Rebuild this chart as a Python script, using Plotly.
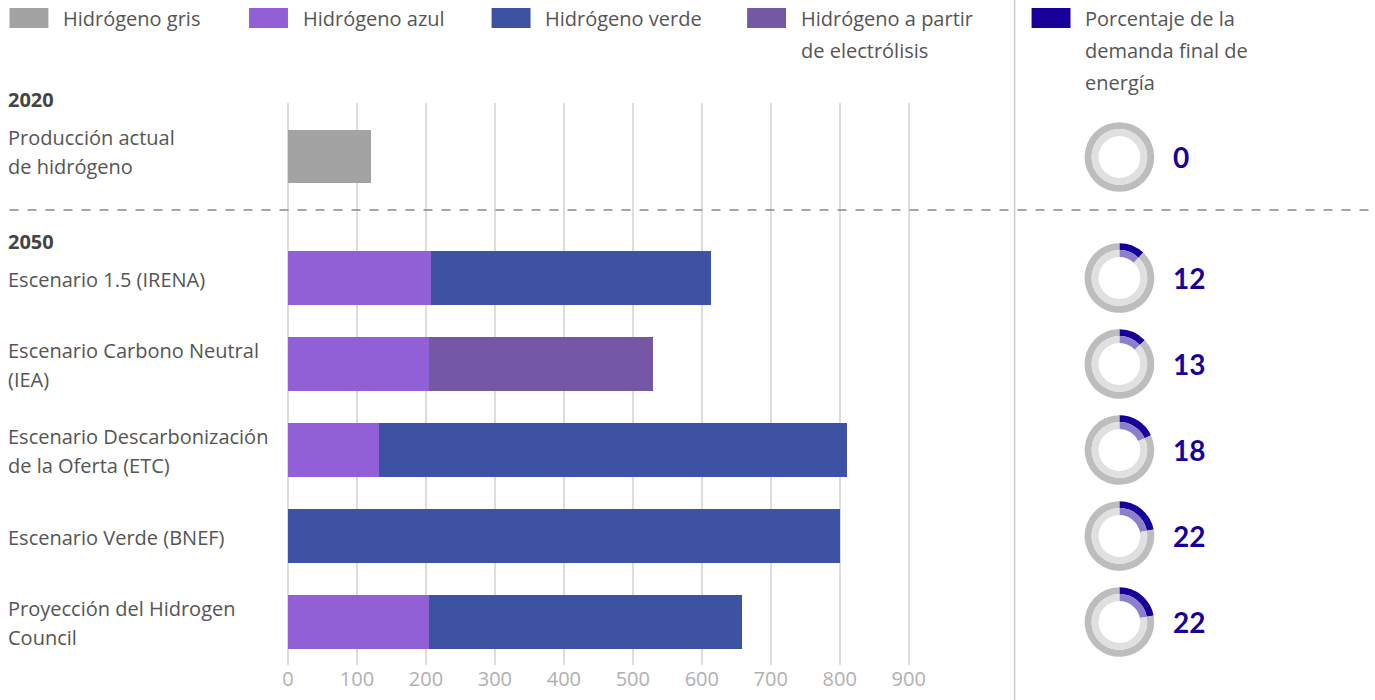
import plotly.graph_objects as go

# ---------------- data ----------------
categories = [
    "Producción actual<br>de hidrógeno",
    "Escenario 1.5 (IRENA)",
    "Escenario Carbono Neutral<br>(IEA)",
    "Escenario Descarbonización<br>de la Oferta (ETC)",
    "Escenario Verde (BNEF)",
    "Proyección del Hidrogen<br>Council",
]
gris = [120, None, None, None, None, None]
azul = [None, 208, 204, 132, None, 204]
verde = [None, 405, None, 678, 800, 454]
electrolisis = [None, None, 325, None, None, None]
porcentaje = [0, 12, 13, 18, 22, 22]

series_names = ["Hidrógeno gris", "Hidrógeno azul", "Hidrógeno verde",
                "Hidrógeno a partir<br>de electrólisis"]
pct_name = "Porcentaje de la<br>demanda final de<br>energía"
x_ticks = [0, 100, 200, 300, 400, 500, 600, 700, 800, 900]
group_labels = ["2020", "2050"]

# ---------------- styling / layout ----------------
W, H = 1375, 700
SX, OX = 0.9975, 4.5   # horizontal calibration of the photographed page


def X(t):
    """paper fraction for a target horizontal pixel"""
    return ((t - OX) / SX) / W


C_GRIS = "#a3a3a3"
C_AZUL = "#9160d6"
C_VERDE = "#3d52a3"
C_ELEC = "#7458a6"
C_PCT = "#170099"
C_PCT_IN = "#8a80cc"
TXT = "#555555"
FONT = "Open Sans"

ypos = [-1.41, 0, 1, 2, 3, 4]  # row positions (layout)
label_shift = [5, -1, -1, -1, -1, -1]  # vertical nudge of row labels (px)
px_center = [157, 278, 364, 450, 536, 622]

fig = go.Figure()
for vals, name, col in [(gris, series_names[0], C_GRIS), (azul, series_names[1], C_AZUL),
                        (verde, series_names[2], C_VERDE), (electrolisis, series_names[3], C_ELEC)]:
    fig.add_trace(go.Bar(x=vals, y=ypos, orientation="h", name=name,
                         marker=dict(color=col, line=dict(width=0)), width=0.62,
                         hoverinfo="skip", showlegend=False))

# donuts
R_OUT, R_MID = 35, 28
for p, cy in zip(porcentaje, px_center):
    cx = 1120
    for r, colors, hole in [(R_OUT, [C_PCT, "#bdbdbd"], R_MID / R_OUT),
                            (R_MID, [C_PCT_IN, "#e0e0e0"], 21 / R_MID)]:
        fig.add_trace(go.Pie(values=[p, 100 - p], marker=dict(colors=colors, line=dict(width=0)),
                             hole=hole, sort=False, direction="clockwise", rotation=0,
                             textinfo="none", hoverinfo="skip", showlegend=False,
                             domain=dict(x=[X(cx) - r / W, X(cx) + r / W],
                                         y=[1 - (cy + r) / H, 1 - (cy - r) / H])))

ann = []
shapes = []
# legend
legend_items = [(8, C_GRIS, series_names[0]), (248, C_AZUL, series_names[1]),
                (491, C_VERDE, series_names[2]), (747, C_ELEC, series_names[3]),
                (1032, C_PCT, pct_name)]
for x0, col, name in legend_items:
    shapes.append(dict(type="rect", xref="paper", yref="paper", x0=X(x0), x1=X(x0 + 39),
                       y0=1 - 28 / H, y1=1 - 8 / H, fillcolor=col, line=dict(width=0)))
    for i, line in enumerate(name.split("<br>")):
        ann.append(dict(xref="paper", yref="paper", x=X(x0 + 52), y=1 - (19 + 32 * i) / H,
                        text=line, showarrow=False, xanchor="left", yanchor="middle",
                        font=dict(family=FONT, size=20, color=TXT)))

# group headings
for lab, yy in zip(group_labels, [100, 242]):
    ann.append(dict(xref="paper", yref="paper", x=X(5), y=1 - yy / H, text="<b>" + lab + "</b>",
                    showarrow=False, xanchor="left", yanchor="middle",
                    font=dict(family=FONT, size=20, color="#444444")))

# category labels
for cat, yv, sh in zip(categories, ypos, label_shift):
    lines = cat.split("<br>")
    n = len(lines)
    for i, line in enumerate(lines):
        ann.append(dict(xref="paper", yref="y", x=X(5), y=yv, yshift=-((i - (n - 1) / 2) * 29) + sh,
                        text=line, showarrow=False, xanchor="left", yanchor="middle",
                        font=dict(family=FONT, size=20, color=TXT)))

# percent values
for p, cy in zip(porcentaje, px_center):
    ann.append(dict(xref="paper", yref="paper", x=X(1172), y=1 - cy / H, text="<b>%d</b>" % p,
                    showarrow=False, xanchor="left", yanchor="middle",
                    font=dict(family="Lato", size=28, color=C_PCT)))

# separators
shapes.append(dict(type="line", xref="paper", yref="paper", x0=X(8), x1=X(1370),
                   y0=1 - 210 / H, y1=1 - 210 / H, line=dict(color="#888888", width=1.5, dash="dash")))
shapes.append(dict(type="line", xref="paper", yref="paper", x0=X(1015), x1=X(1015),
                   y0=0, y1=1, line=dict(color="#cccccc", width=1.5)))

XMAX = 950
fig.update_layout(
    width=W, height=H, margin=dict(l=0, r=0, t=0, b=0),
    paper_bgcolor="white", plot_bgcolor="white", barmode="stack", bargap=0,
    showlegend=False, annotations=ann, shapes=shapes,
    xaxis=dict(domain=[X(287), X(287 + 0.691 * XMAX)], range=[0, XMAX], tickvals=x_ticks,
               showgrid=True, gridcolor="#dddddd", gridwidth=1.5, zeroline=True,
               zerolinecolor="#dddddd", zerolinewidth=1.5, showline=False,
               ticks="", tickfont=dict(family=FONT, size=20, color="#b0b0b0"),
               fixedrange=True),
    yaxis=dict(domain=[1 - 665 / H, 1 - 103 / H], range=[4.5, -2.035], showticklabels=False,
               showgrid=False, zeroline=False, fixedrange=True),
)

fig.write_html("out.html", config={"displayModeBar": False},
               post_script="document.body.style.margin='0px';")
